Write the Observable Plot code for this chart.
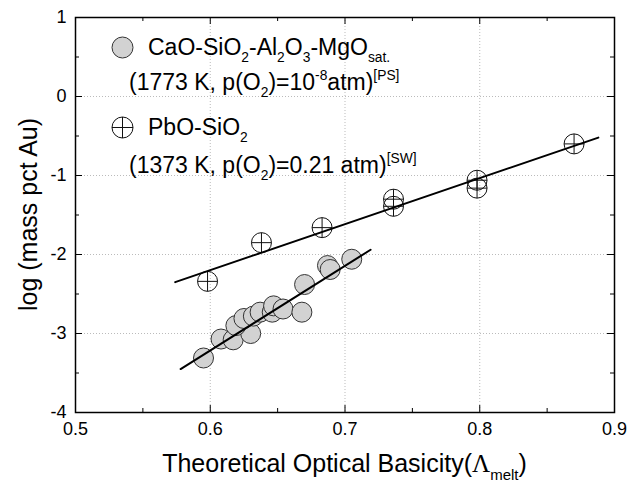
<!DOCTYPE html>
<html><head><meta charset="utf-8">
<script src="https://cdn.jsdelivr.net/npm/d3@7"></script>
<script src="https://cdn.jsdelivr.net/npm/@observablehq/plot@0.6"></script>
<style>body{margin:0;background:#fff;} svg{display:block;}</style>
</head><body><div id="chart"></div>
<script>
// CaO-SiO2-Al2O3-MgO(sat.) data
const caoX = [0.595, 0.608, 0.617, 0.630, 0.619, 0.625, 0.632, 0.637, 0.646, 0.647, 0.654, 0.668, 0.670, 0.687, 0.689, 0.705];
const caoY = [-3.31, -3.07, -3.08, -3.00, -2.90, -2.81, -2.78, -2.73, -2.73, -2.65, -2.69, -2.73, -2.38, -2.14, -2.19, -2.06];
// PbO-SiO2 data
const pbX = [0.598, 0.638, 0.683, 0.736, 0.736, 0.798, 0.798, 0.870];
const pbY = [-2.34, -1.85, -1.66, -1.30, -1.39, -1.06, -1.16, -0.60];
// fitted lines (end points)
const caoFitX = [0.578, 0.719];
const caoFitY = [-3.45, -1.94];
const pbFitX = [0.574, 0.888];
const pbFitY = [-2.35, -0.52];
// ticks
const xTicks = [0.5, 0.6, 0.7, 0.8, 0.9];
const xMinor = [0.55, 0.65, 0.75, 0.85];
const yTicks = [-4, -3, -2, -1, 0, 1];
const yMinor = [-3.5, -2.5, -1.5, -0.5, 0.5];
const xGrid = [0.6, 0.7, 0.8];
const yGrid = [-3, -2, -1, 0];

const cao = caoX.map((x, i) => ({x, y: caoY[i]}));
const pb = pbX.map((x, i) => ({x, y: pbY[i]}));
const caoFit = caoFitX.map((x, i) => ({x, y: caoFitY[i]}));
const pbFit = pbFitX.map((x, i) => ({x, y: pbFitY[i]}));

const W = 628, H = 482, ML = 75, MR = 14, MT = 17, MB = 70;
const PW = W - ML - MR, PH = H - MT - MB;

const plusCircle = {
  draw(ctx, size) {
    const r = Math.sqrt(size / Math.PI);
    ctx.moveTo(r, 0); ctx.arc(0, 0, r, 0, 2 * Math.PI);
    ctx.moveTo(-r, 0); ctx.lineTo(r, 0);
    ctx.moveTo(0, -r); ctx.lineTo(0, r);
  }
};

const grey = "#d2d2d2";
const plot = Plot.plot({
  width: W, height: H,
  marginLeft: ML, marginRight: MR, marginTop: MT, marginBottom: MB,
  style: {fontFamily: "'Liberation Sans', Arial, sans-serif", background: "#fff", color: "#000"},
  x: {domain: [0.5, 0.9]},
  y: {domain: [-4, 1]},
  marks: [
    Plot.gridX(xGrid, {stroke: "#bbb", strokeOpacity: 1, strokeDasharray: "1,2"}),
    Plot.gridY(yGrid, {stroke: "#bbb", strokeOpacity: 1, strokeDasharray: "1,2"}),
    // inward ticks
    Plot.tickX(xTicks, {x: d => d, insetTop: PH - 7, stroke: "#000"}),
    Plot.tickX(xMinor, {x: d => d, insetTop: PH - 4, stroke: "#000"}),
    Plot.tickX(xTicks, {x: d => d, insetBottom: PH - 7, stroke: "#000"}),
    Plot.tickX(xMinor, {x: d => d, insetBottom: PH - 4, stroke: "#000"}),
    Plot.tickY(yTicks, {y: d => d, insetRight: PW - 7, stroke: "#000"}),
    Plot.tickY(yMinor, {y: d => d, insetRight: PW - 4, stroke: "#000"}),
    Plot.tickY(yTicks, {y: d => d, insetLeft: PW - 7, stroke: "#000"}),
    Plot.tickY(yMinor, {y: d => d, insetLeft: PW - 4, stroke: "#000"}),
    Plot.axisX(xTicks, {tickSize: 0, tickPadding: 10, fontSize: 18, tickFormat: d3.format(".1f"), label: null}),
    Plot.axisY(yTicks, {tickSize: 0, tickPadding: 9, fontSize: 18, tickFormat: d => String(d), label: null}),
    Plot.dot(cao, {x: "x", y: "y", r: 10, fill: grey, stroke: "#333", strokeWidth: 1}),
    Plot.dot(pb, {x: "x", y: "y", r: 10, symbol: plusCircle, fill: "none", stroke: "#111", strokeWidth: 1}),
    Plot.line(caoFit, {x: "x", y: "y", stroke: "#000", strokeWidth: 2}),
    Plot.line(pbFit, {x: "x", y: "y", stroke: "#000", strokeWidth: 2}),
    // legend symbols
    Plot.dot([0], {frameAnchor: "top-left", dx: 47, dy: 30, r: 10.5, fill: grey, stroke: "#333", strokeWidth: 1}),
    Plot.dot([0], {frameAnchor: "top-left", dx: 47, dy: 110, r: 10.5, symbol: plusCircle, fill: "none", stroke: "#111", strokeWidth: 1}),
    Plot.frame({stroke: "#000", strokeWidth: 1.5})
  ]
});
document.getElementById("chart").appendChild(plot);

function rich(g, x, y, parts, size, anchor, transform) {
  const t = g.append("text").attr("x", x).attr("y", y).attr("font-size", size)
    .attr("text-anchor", anchor || "start").attr("fill", "#000");
  if (transform) t.attr("transform", transform);
  let cur = 0;
  parts.forEach(([s, kind, fam]) => {
    const target = kind === "sub" ? 0.32 * size : kind === "sup" ? -0.42 * size : 0;
    const ts = t.append("tspan").text(s).attr("dy", target - cur);
    if (kind) ts.attr("font-size", 0.6 * size);
    if (fam) ts.attr("font-family", fam);
    cur = target;
  });
  return t;
}

const svg = d3.select(plot);
const g = svg.append("g").attr("font-family", "'Liberation Sans', Arial, sans-serif");
const legendRow1 = [["CaO-SiO"], ["2", "sub"], ["-Al"], ["2", "sub"], ["O"], ["3", "sub"], ["-MgO"], ["sat.", "sub"]];
const legendRow2 = [["(1773 K, p(O"], ["2", "sub"], [")=10"], ["-8", "sup"], ["atm)"], ["[PS]", "sup"]];
const legendRow3 = [["PbO-SiO"], ["2", "sub"]];
const legendRow4 = [["(1373 K, p(O"], ["2", "sub"], [")=0.21 atm)"], ["[SW]", "sup"]];
rich(g, 148, 55, legendRow1, 23);
rich(g, 129, 90, legendRow2, 23);
rich(g, 148, 135, legendRow3, 23);
rich(g, 129, 173, legendRow4, 23);
rich(g, ML + PW / 2, 472, [["Theoretical Optical Basicity("], ["Λ", null, "'Liberation Serif', serif"], ["melt", "sub"], [")"]], 25, "middle");
rich(g, 0, 0, [["log (mass pct Au)"]], 25, "middle", `translate(37,${MT + PH / 2}) rotate(-90)`);
</script>
</body></html>
